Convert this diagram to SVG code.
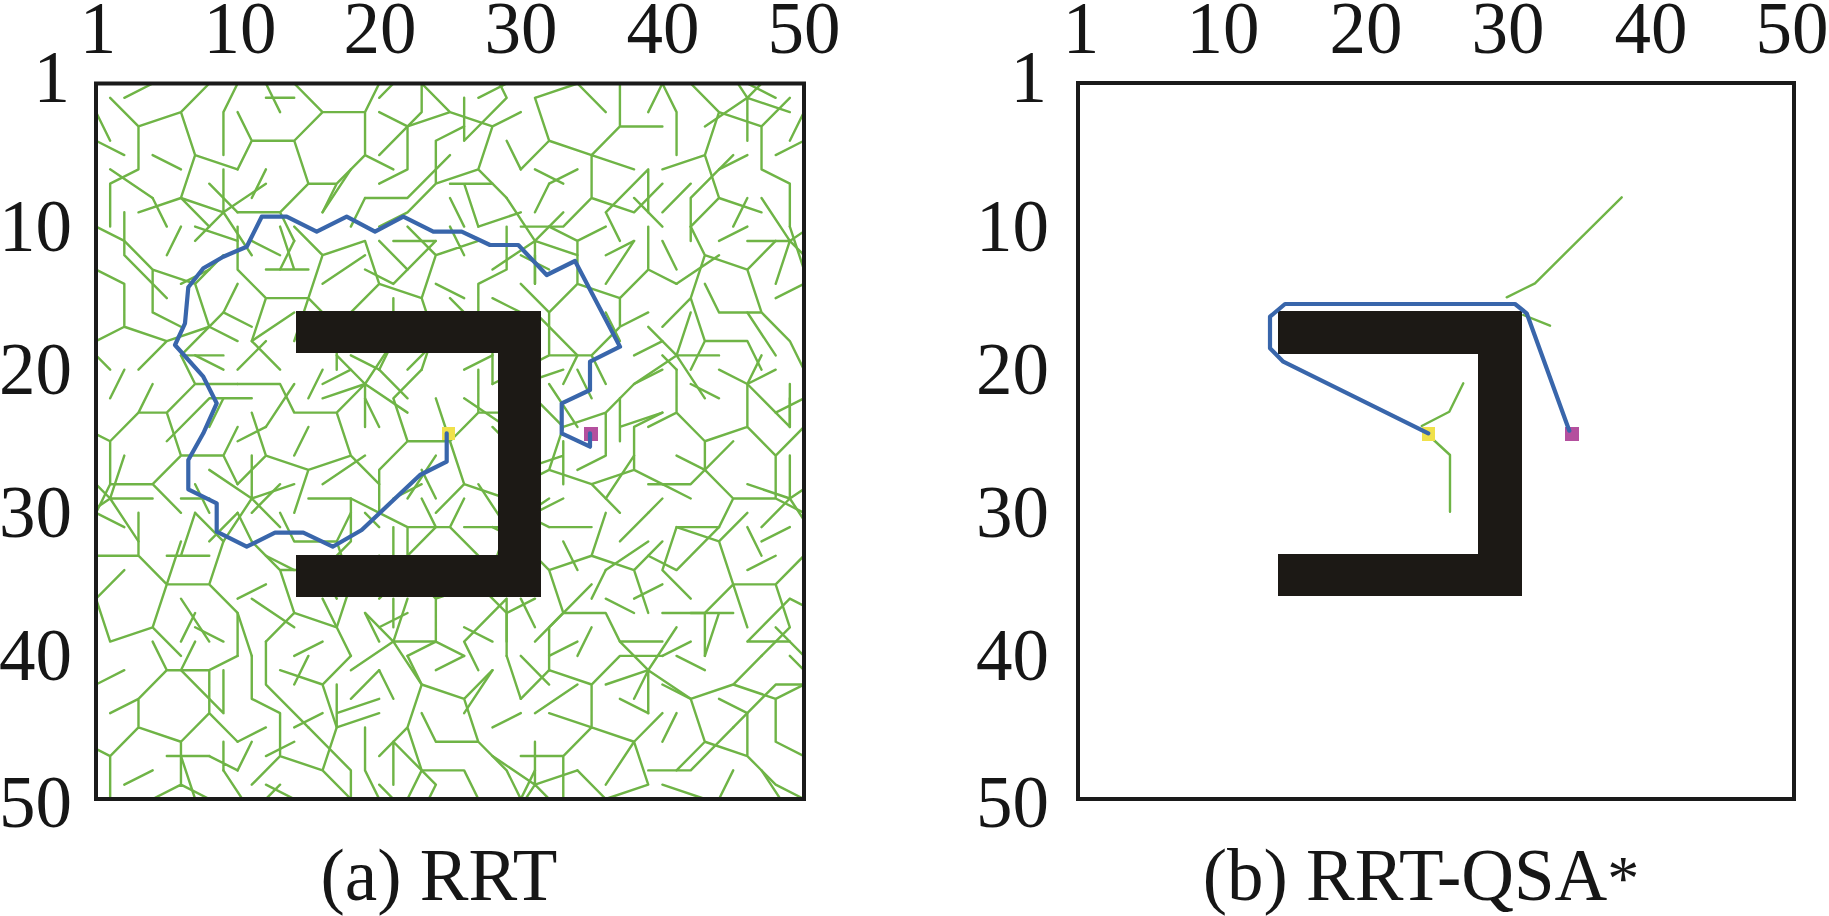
<svg xmlns="http://www.w3.org/2000/svg" xmlns:xlink="http://www.w3.org/1999/xlink" width="1829" height="916" viewBox="0 0 1829 916">
<style>
.lbl{font-family:"Liberation Serif","Times New Roman",serif;font-size:73px;fill:#161616}
.mid{text-anchor:middle}
.end{text-anchor:end}
.box{fill:none;stroke:#1a1a1a;stroke-width:4}
.obs{fill:#1c1915}
.tree{fill:none;stroke:#6fb446;stroke-width:0.17;stroke-linecap:round;stroke-linejoin:round}
.tb{fill:none;stroke:#6fb446;stroke-width:2.4;stroke-linecap:round;stroke-linejoin:round}
.route{fill:none;stroke:#3966ab;stroke-width:4.2;stroke-linejoin:round;stroke-linecap:round}
.start{fill:#f0e14a}
.goal{fill:#b4509e}
</style>
<defs>
<clipPath id="clipA" clipPathUnits="userSpaceOnUse"><rect x="96" y="83.5" width="708" height="715.5"/></clipPath>
<path id="tA" d="M1 1L3 3L3 6L1 7L1 10M3 3L6 2L8 0M6 2L7 5L10 6M7 5L6 8L3 9M6 8L8 10M9 2L9 5M9 2L10 0M4 0L2 1M0 4L2 5M8 7L10 9M0 2L1 4M4 5L6 6M4 8L5 10"/>
<path id="tB" d="M0 0L2 1L5 1L7 3L9 4M2 1L2 4L0 6M2 4L4 6L4 9L2 10M4 6L7 5L9 7L9 10M9 7L11 6M4 9L6 10M5 1L6 -1M0 8L2 7M6 8L8 9M8 1L10 2M7 3L7 5M1 6L1 8"/>
<path id="tC" d="M0 1L3 0M1 2L3 4L6 3L8 1L10 0M3 4L2 7L0 8M2 7L5 8L7 10M5 8L8 7L10 8M8 7L8 4L10 3M6 3L6 6M0 4L1 6M1 10L3 9M4 0L5 2M9 10L10 9M6 6L4 7"/>
<path id="tD" d="M0 0L0 3L2 5L5 5L7 7L10 7M2 5L1 8L3 10M5 5L6 2L9 1M6 2L4 0M7 7L7 10M5 5L4 8M9 1L10 4L8 6M3 2L1 1M2 8L0 10M8 9L10 10M3 3L4 1"/>
<path id="tE" d="M4 4L4 1M4 4L7 2M4 4L1 3M4 4L6 7M4 4L2 6M7 8L10 8M8 5L9 8M1 9L3 8"/>
<path id="tF" d="M0 0L3 3L3 6M6 1L9 4M1 7L4 9M7 6L9 9M6 1L6 4M9 4L8 6"/>
</defs>

<g id="panel-a">
  <g id="tree-a" clip-path="url(#clipA)">
    <g class="tree" transform="translate(96 83.5) scale(14.16 14.31)">
      <use xlink:href="#tA" transform="translate(0 0)"/>
      <use xlink:href="#tB" transform="translate(10 0) rotate(90 5 5)"/>
      <use xlink:href="#tC" transform="translate(20 0) rotate(180 5 5)"/>
      <use xlink:href="#tD" transform="translate(30 0) rotate(270 5 5)"/>
      <use xlink:href="#tA" transform="translate(40 0) matrix(-1 0 0 1 10 0)"/>
      <use xlink:href="#tC" transform="translate(0 10) matrix(-1 0 0 1 10 0)"/>
      <use xlink:href="#tD" transform="translate(10 10)"/>
      <use xlink:href="#tA" transform="translate(20 10) rotate(180 5 5)"/>
      <use xlink:href="#tB" transform="translate(30 10) matrix(1 0 0 -1 0 10)"/>
      <use xlink:href="#tC" transform="translate(40 10) rotate(90 5 5)"/>
      <use xlink:href="#tB" transform="translate(0 20) rotate(270 5 5)"/>
      <use xlink:href="#tA" transform="translate(10 20) rotate(90 5 5)"/>
      <use xlink:href="#tD" transform="translate(20 20) matrix(1 0 0 -1 0 10)"/>
      <use xlink:href="#tC" transform="translate(30 20)"/>
      <use xlink:href="#tB" transform="translate(40 20) rotate(180 5 5)"/>
      <use xlink:href="#tD" transform="translate(0 30) rotate(180 5 5)"/>
      <use xlink:href="#tC" transform="translate(10 30) rotate(270 5 5)"/>
      <use xlink:href="#tB" transform="translate(20 30)"/>
      <use xlink:href="#tA" transform="translate(30 30) rotate(270 5 5)"/>
      <use xlink:href="#tD" transform="translate(40 30) matrix(-1 0 0 1 10 0)"/>
      <use xlink:href="#tB" transform="translate(0 40) matrix(-1 0 0 1 10 0)"/>
      <use xlink:href="#tA" transform="translate(10 40) matrix(1 0 0 -1 0 10)"/>
      <use xlink:href="#tC" transform="translate(20 40) rotate(90 5 5)"/>
      <use xlink:href="#tD" transform="translate(30 40) rotate(90 5 5)"/>
      <use xlink:href="#tC" transform="translate(40 40) matrix(1 0 0 -1 0 10)"/>
      <use xlink:href="#tE" transform="translate(5 5)"/>
      <use xlink:href="#tF" transform="translate(15 5) rotate(90 5 5)"/>
      <use xlink:href="#tE" transform="translate(25 5) rotate(180 5 5)"/>
      <use xlink:href="#tF" transform="translate(35 5) matrix(-1 0 0 1 10 0)"/>
      <use xlink:href="#tE" transform="translate(45 5) rotate(270 5 5)"/>
      <use xlink:href="#tF" transform="translate(5 15) rotate(270 5 5)"/>
      <use xlink:href="#tE" transform="translate(15 15) matrix(1 0 0 -1 0 10)"/>
      <use xlink:href="#tF" transform="translate(25 15)"/>
      <use xlink:href="#tE" transform="translate(35 15) rotate(90 5 5)"/>
      <use xlink:href="#tF" transform="translate(45 15) rotate(180 5 5)"/>
      <use xlink:href="#tE" transform="translate(5 25) matrix(-1 0 0 1 10 0)"/>
      <use xlink:href="#tF" transform="translate(15 25) matrix(1 0 0 -1 0 10)"/>
      <use xlink:href="#tE" transform="translate(25 25) rotate(270 5 5)"/>
      <use xlink:href="#tF" transform="translate(35 25) rotate(90 5 5)"/>
      <use xlink:href="#tE" transform="translate(45 25)"/>
      <use xlink:href="#tF" transform="translate(5 35) rotate(180 5 5)"/>
      <use xlink:href="#tE" transform="translate(15 35) rotate(90 5 5)"/>
      <use xlink:href="#tF" transform="translate(25 35) matrix(-1 0 0 1 10 0)"/>
      <use xlink:href="#tE" transform="translate(35 35) matrix(1 0 0 -1 0 10)"/>
      <use xlink:href="#tF" transform="translate(45 35) rotate(270 5 5)"/>
      <use xlink:href="#tE" transform="translate(5 45) rotate(180 5 5)"/>
      <use xlink:href="#tF" transform="translate(15 45)"/>
      <use xlink:href="#tE" transform="translate(25 45) matrix(-1 0 0 1 10 0)"/>
      <use xlink:href="#tF" transform="translate(35 45) rotate(90 5 5)"/>
      <use xlink:href="#tE" transform="translate(45 45) rotate(270 5 5)"/>
      <use xlink:href="#tF" transform="translate(-5 5) rotate(180 5 5)"/>
      <use xlink:href="#tE" transform="translate(-5 25) rotate(90 5 5)"/>
      <use xlink:href="#tF" transform="translate(20 -5) matrix(1 0 0 -1 0 10)"/>
      <use xlink:href="#tE" transform="translate(40 -5) rotate(180 5 5)"/>
    </g>
  </g>
  <path id="obstacle-a" class="obs" d="M296 311H541V597H296V555H498V353H296Z"/>
  <rect id="start-a" class="start" x="442" y="427" width="13" height="13"/>
  <rect id="goal-a" class="goal" x="584" y="427" width="14" height="14"/>
  <polyline id="route-a" class="route" points="446.7,433.3 446.7,461.7 420,475 390,503.3 361.7,530 332.7,546.7 303.3,532.7 275,532.7 246.7,546.7 216.7,531.7 216.7,503.3 188.3,489.3 188.3,460 203.3,433.3 216.7,403.3 203.3,376.7 175,345 185,323.3 188.3,287.3 203.3,268.3 223.3,256.7 246.7,246.7 261.7,216.7 286.7,216.7 316.7,231.7 346.7,216.7 375,231.7 403.3,216.7 433.3,231.7 461.7,231.7 490,245 518.3,245 546.7,275 575,261 620,346.7 590,361.7 590,390 561.7,403.3 561.7,433.3 590,446.7 590,433.3"/>
  <rect id="frame-a" class="box" x="96" y="83.5" width="708" height="715.5"/>
  <g id="axis-a">
    <text class="lbl mid" x="98" y="53">1</text>
    <text class="lbl mid" x="240" y="53">10</text>
    <text class="lbl mid" x="380" y="53">20</text>
    <text class="lbl mid" x="521" y="53">30</text>
    <text class="lbl mid" x="663" y="53">40</text>
    <text class="lbl mid" x="804" y="53">50</text>
    <text class="lbl end" x="70" y="102">1</text>
    <text class="lbl end" x="72" y="251">10</text>
    <text class="lbl end" x="72" y="394">20</text>
    <text class="lbl end" x="72" y="537">30</text>
    <text class="lbl end" x="72" y="680">40</text>
    <text class="lbl end" x="72" y="827">50</text>
  </g>
  <text id="caption-a" class="lbl mid" x="439" y="900">(a) RRT</text>
</g>

<g id="panel-b">
  <g id="tree-b">
    <polyline class="tb" points="1621.7,197.3 1535,283.3 1506.7,297.3"/>
    <polyline class="tb" points="1523.3,315 1550,325.7"/>
    <polyline class="tb" points="1463.3,383.3 1449.3,411.7 1421.7,426"/>
    <polyline class="tb" points="1428.3,435 1450,455 1450,511.7"/>
  </g>
  <path id="obstacle-b" class="obs" d="M1278 311H1522V596H1278V554H1478V354H1278Z"/>
  <rect id="start-b" class="start" x="1422" y="427" width="13" height="14"/>
  <rect id="goal-b" class="goal" x="1565" y="427" width="14" height="14"/>
  <polyline id="route-b" class="route" points="1569.3,430.7 1526.7,313.3 1515,304 1285,304 1270,316.7 1270,348.3 1283.3,361.7 1428.3,433.3"/>
  <rect id="frame-b" class="box" x="1078" y="83" width="716" height="716"/>
  <g id="axis-b">
    <text class="lbl mid" x="1081" y="53">1</text>
    <text class="lbl mid" x="1223" y="53">10</text>
    <text class="lbl mid" x="1366" y="53">20</text>
    <text class="lbl mid" x="1508" y="53">30</text>
    <text class="lbl mid" x="1651" y="53">40</text>
    <text class="lbl mid" x="1792" y="53">50</text>
    <text class="lbl end" x="1047" y="102">1</text>
    <text class="lbl end" x="1049" y="251">10</text>
    <text class="lbl end" x="1049" y="394">20</text>
    <text class="lbl end" x="1049" y="537">30</text>
    <text class="lbl end" x="1049" y="680">40</text>
    <text class="lbl end" x="1049" y="827">50</text>
  </g>
  <text id="caption-b" class="lbl mid" x="1421" y="900">(b) RRT-QSA<tspan font-size="64">*</tspan></text>
</g>
</svg>
